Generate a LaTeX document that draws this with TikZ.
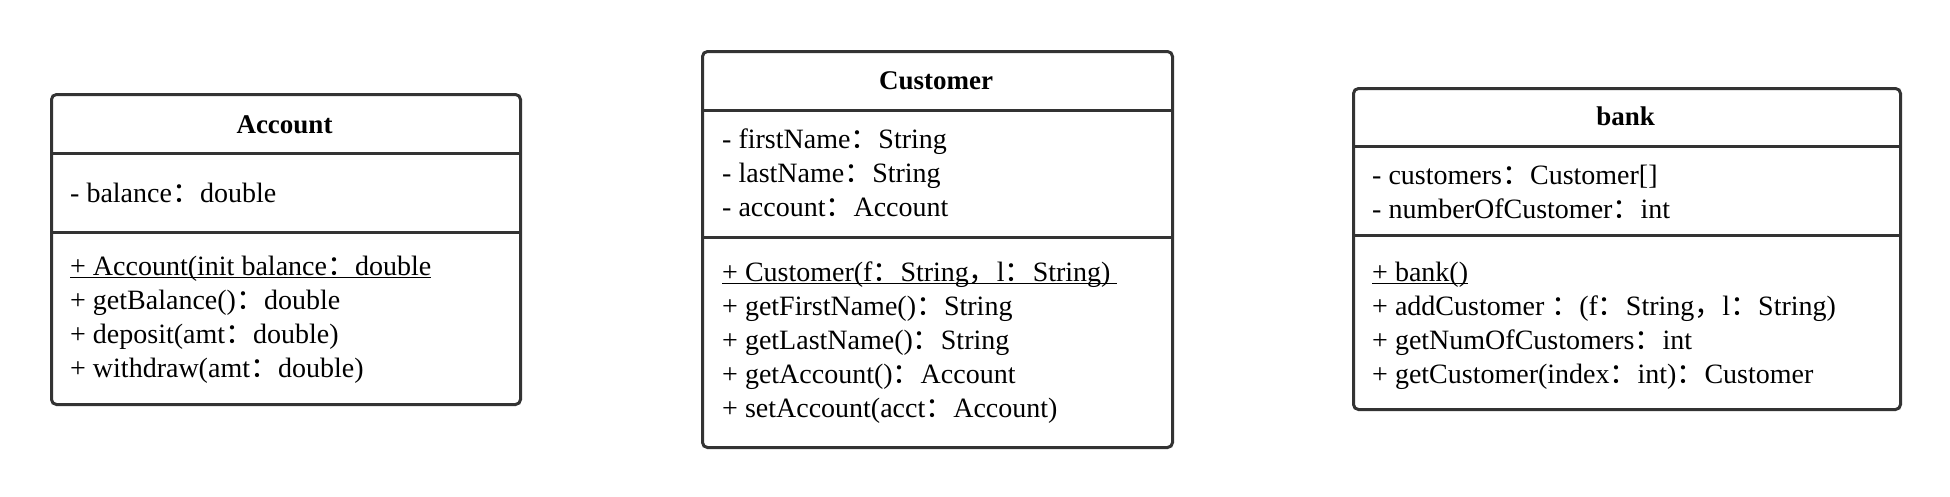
\documentclass[tikz,border=0pt]{standalone}
\usepackage{fontspec}
\setmainfont{Liberation Serif}
\newfontfamily\cjkfont{Noto Sans CJK SC}
\newcommand\fwc{{\cjkfont ：}}
\newcommand\fwm{{\cjkfont ，}}
\definecolor{edge}{HTML}{333333}
\tikzset{
  umlbox/.style={draw=edge, line width=3pt, rounded corners=5pt, fill=white, inner sep=0pt, anchor=north west},
  divider/.style={draw=edge, line width=3pt},
  title/.style={font=\bfseries\fontsize{27}{32}\selectfont, inner sep=0pt, anchor=base},
  member/.style={font=\fontsize{28}{33}\selectfont, inner sep=0pt, anchor=base west},
  uline/.style={line width=1.3pt, draw=black}
}
\begin{document}
\begin{tikzpicture}[x=1pt,y=-1pt]
\useasboundingbox[fill=white] (0,0) rectangle (1950,496);

% ---------------- Account ----------------
\node[umlbox, minimum width=469pt, minimum height=310pt] (acc) at (50,93) {};
\draw[divider] (acc.west |- 0,153) -- (acc.east |- 0,153);
\draw[divider] (acc.west |- 0,232) -- (acc.east |- 0,232);
\node[title] (accT) at (284.5,133) {Account};
\node[member] (accA1) at (70,202) {- balance\fwc double};
\node[member] (accM1) at (70,275) {+ Account(init balance\fwc double};
\draw[uline] ([yshift=-2.5pt]accM1.base west) -- ([yshift=-2.5pt]accM1.base east);
\node[member] (accM2) at (70,309) {+ getBalance()\fwc double};
\node[member] (accM3) at (70,343) {+ deposit(amt\fwc double)};
\node[member] (accM4) at (70,377) {+ withdraw(amt\fwc double)};

% ---------------- Customer ----------------
\node[umlbox, minimum width=470pt, minimum height=396pt] (cus) at (701,50) {};
\draw[divider] (cus.west |- 0,110) -- (cus.east |- 0,110);
\draw[divider] (cus.west |- 0,237) -- (cus.east |- 0,237);
\node[title] (cusT) at (936,89) {Customer};
\node[member] (cusA1) at (722,148) {- firstName\fwc String};
\node[member] (cusA2) at (722,182) {- lastName\fwc String};
\node[member] (cusA3) at (722,216) {- account\fwc Account};
\node[member] (cusM1) at (722,281) {+ Customer(f\fwc String\fwm l\fwc String)};
\draw[uline] ([yshift=-2.5pt]cusM1.base west) -- ([yshift=-2.5pt,xshift=6pt]cusM1.base east);
\node[member] (cusM2) at (722,315) {+ getFirstName()\fwc String};
\node[member] (cusM3) at (722,349) {+ getLastName()\fwc String};
\node[member] (cusM4) at (722,383) {+ getAccount()\fwc Account};
\node[member] (cusM5) at (722,417) {+ setAccount(acct\fwc Account)};

% ---------------- bank ----------------
\node[umlbox, minimum width=547pt, minimum height=321pt] (bnk) at (1352,87) {};
\draw[divider] (bnk.west |- 0,146) -- (bnk.east |- 0,146);
\draw[divider] (bnk.west |- 0,235) -- (bnk.east |- 0,235);
\node[title] (bnkT) at (1625.5,125) {bank};
\node[member] (bnkA1) at (1372,184) {- customers\fwc Customer[]};
\node[member] (bnkA2) at (1372,218) {- numberOfCustomer\fwc int};
\node[member] (bnkM1) at (1372,281) {+ bank()};
\draw[uline] ([yshift=-2.5pt]bnkM1.base west) -- ([yshift=-2.5pt]bnkM1.base east);
\node[member] (bnkM2) at (1372,315) {+ addCustomer \fwc(f\fwc String\fwm l\fwc String)};
\node[member] (bnkM3) at (1372,349) {+ getNumOfCustomers\fwc int};
\node[member] (bnkM4) at (1372,383) {+ getCustomer(index\fwc int)\fwc Customer};
\end{tikzpicture}
\end{document}
